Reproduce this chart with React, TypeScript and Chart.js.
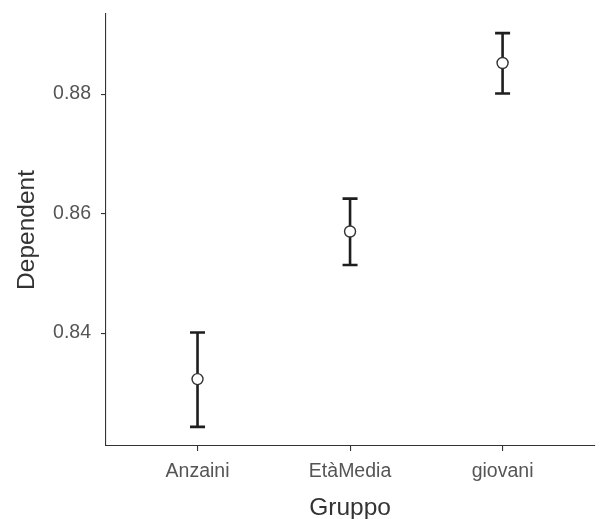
import React, { useEffect, useRef } from "react";
import { Chart, registerables } from "chart.js";

Chart.register(...registerables);

const categories = ["Anzaini", "EtàMedia", "giovani"];
const means = [0.8323, 0.857, 0.8852];
const lower = [0.8243, 0.8514, 0.8801];
const upper = [0.8401, 0.8625, 0.8902];
const yTicks = [0.84, 0.86, 0.88];
const yMin = 0.8211;
const yMax = 0.8934;
const xTitle = "Gruppo";
const yTitle = "Dependent";

const FONT = "'Liberation Sans', Arial, sans-serif";

const errorBarPlugin = {
  id: "errorBars",
  beforeDatasetsDraw(chart: any) {
    const { ctx, scales } = chart;
    const xs = scales.x;
    const ys = scales.y;
    ctx.save();
    ctx.strokeStyle = "#1e1e1e";
    ctx.lineWidth = 2.6;
    ctx.lineCap = "butt";
    for (let i = 0; i < categories.length; i++) {
      const x = xs.getPixelForValue(i + 1);
      const yl = ys.getPixelForValue(lower[i]);
      const yu = ys.getPixelForValue(upper[i]);
      const hw = 7.5;
      ctx.beginPath();
      ctx.moveTo(x, yl);
      ctx.lineTo(x, yu);
      ctx.moveTo(x - hw, yl);
      ctx.lineTo(x + hw, yl);
      ctx.moveTo(x - hw, yu);
      ctx.lineTo(x + hw, yu);
      ctx.stroke();
    }
    ctx.restore();
  },
};

export default function App() {
  const ref = useRef<HTMLCanvasElement | null>(null);
  useEffect(() => {
    if (!ref.current) return;
    const chart = new Chart(ref.current, {
      type: "scatter",
      data: {
        datasets: [
          {
            data: means.map((m, i) => ({ x: i + 1, y: m })),
            pointRadius: 5.5,
            pointBackgroundColor: "#ffffff",
            pointBorderColor: "#333333",
            pointBorderWidth: 1.4,
            showLine: false,
          },
        ],
      },
      options: {
        animation: false,
        responsive: true,
        maintainAspectRatio: false,
        layout: { padding: { top: 14, right: 4, bottom: 0, left: 0 } },
        plugins: {
          legend: { display: false },
          tooltip: { enabled: false },
        },
        scales: {
          x: {
            type: "linear",
            min: 0.4,
            max: 3.6,
            afterBuildTicks: (scale: any) => {
              scale.ticks = categories.map((_, i) => ({ value: i + 1 }));
            },
            afterFit: (scale: any) => {
              scale.height = 73;
              scale.paddingLeft = 0;
              scale.paddingRight = 0;
            },
            ticks: {
              callback: (v: any) => categories[Math.round(Number(v)) - 1] ?? "",
              color: "#555555",
              font: { family: FONT, size: 19.5 },
              padding: 9,
              maxRotation: 0,
              autoSkip: false,
            },
            grid: {
              display: true,
              drawOnChartArea: false,
              drawTicks: true,
              tickLength: 5,
              color: "#333333",
              lineWidth: 1.1,
            },
            border: { display: true, color: "#333333", width: 1.1 },
            title: {
              display: true,
              text: xTitle,
              color: "#333333",
              font: { family: FONT, size: 24.5, lineHeight: 1.0 },
              padding: { top: 0, bottom: -1.5 },
            },
          },
          y: {
            type: "linear",
            min: yMin,
            max: yMax,
            afterBuildTicks: (scale: any) => {
              scale.ticks = yTicks.map((v) => ({ value: v }));
            },
            afterFit: (scale: any) => {
              scale.width = 106;
              scale.paddingTop = 0;
              scale.paddingBottom = 0;
            },
            ticks: {
              callback: (v: any) => Number(v).toFixed(2),
              color: "#555555",
              font: { family: FONT, size: 19.5 },
              padding: 10,
            },
            grid: {
              display: true,
              drawOnChartArea: false,
              drawTicks: true,
              tickLength: 5,
              color: "#333333",
              lineWidth: 1.1,
            },
            border: { display: true, color: "#333333", width: 1.1 },
            title: {
              display: true,
              text: yTitle,
              color: "#333333",
              font: { family: FONT, size: 24.5, lineHeight: 1.2 },
              padding: { top: 13, bottom: 0 },
            },
          },
        },
      },
      plugins: [errorBarPlugin],
    } as any);
    return () => chart.destroy();
  }, []);
  return (
    <div
      style={{
        position: "absolute",
        left: 0,
        top: 0,
        width: 601,
        height: 519,
        background: "#ffffff",
      }}
    >
      <canvas ref={ref} />
    </div>
  );
}
